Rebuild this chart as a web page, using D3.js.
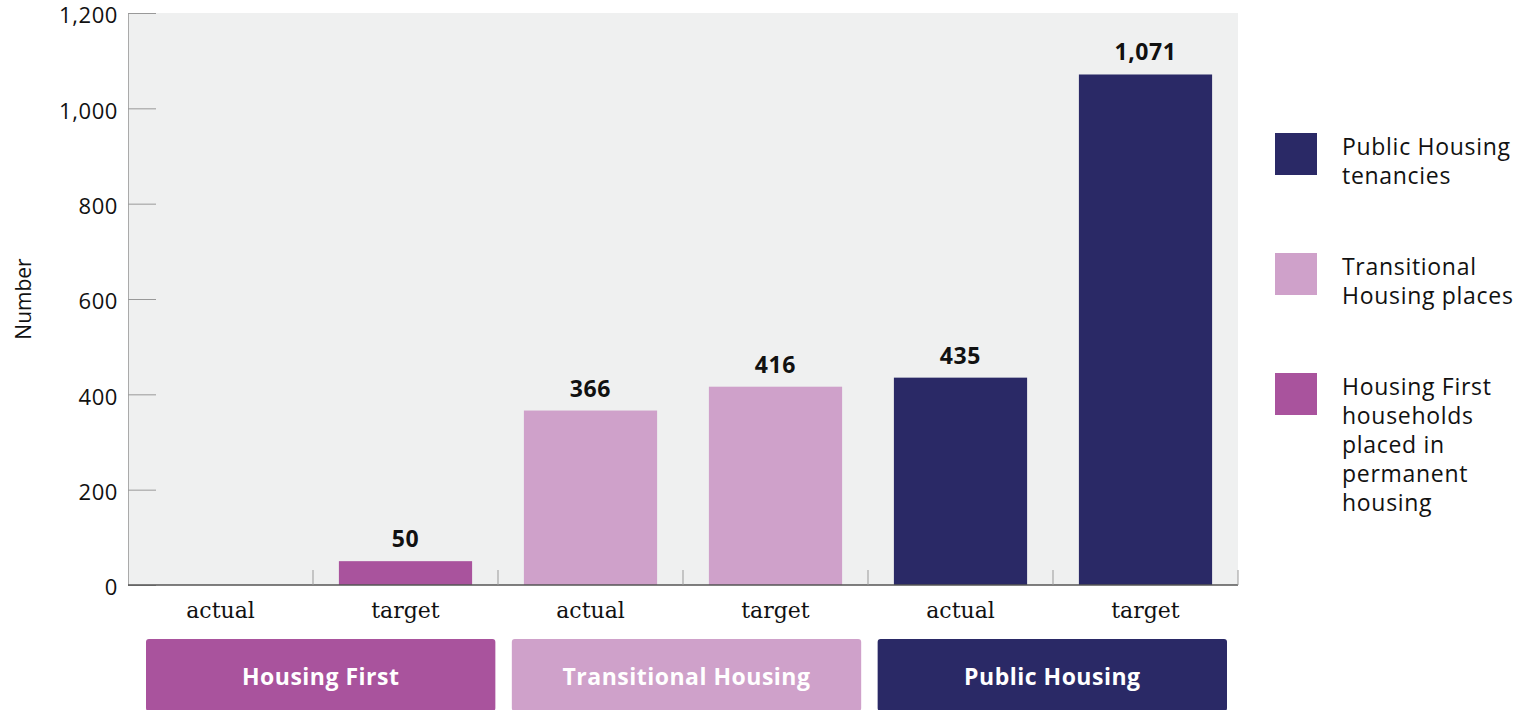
<!DOCTYPE html>
<html>
<head>
<meta charset="utf-8">
<script src="https://cdn.jsdelivr.net/npm/d3@7"></script>
<style>
  body { margin: 0; background: #fff; }
  text { font-family: "Open Sans", sans-serif; }
</style>
</head>
<body>
<div id="chart"></div>
<script>
// data
const bars = ["HF actual", "HF target", "TH actual", "TH target", "PH actual", "PH target"];
const barLabels = ["actual", "target", "actual", "target", "actual", "target"];
const barGroups = ["Housing First", "Housing First", "Transitional Housing", "Transitional Housing", "Public Housing", "Public Housing"];
const values = [0, 50, 366, 416, 435, 1071];
const showValue = [false, true, true, true, true, true];
const groups = ["Housing First", "Transitional Housing", "Public Housing"];
const groupColors = ["#a9539d", "#cfa1ca", "#2a2966"];
const yTicks = [0, 200, 400, 600, 800, 1000, 1200];
const legendItems = [
  {group: "Public Housing", lines: ["Public Housing", "tenancies"]},
  {group: "Transitional Housing", lines: ["Transitional", "Housing places"]},
  {group: "Housing First", lines: ["Housing First", "households", "placed in", "permanent", "housing"]}
];

const W = 1530, H = 710;
const margin = {top: 13, left: 128, right: 292, bottom: 125};
const plotW = W - margin.left - margin.right,
      plotH = H - margin.top - margin.bottom;

const svg = d3.select("#chart")
  .append("svg")
    .attr("width", W)
    .attr("height", H);

const g = svg.append("g")
  .attr("transform", `translate(${margin.left},${margin.top})`);

const color = d3.scaleOrdinal().domain(groups).range(groupColors);

const x = d3.scaleBand()
  .domain(bars)
  .range([0, plotW])
  .paddingInner(0.28)
  .paddingOuter(0.14);

// scale for the group boxes under the axis
const xGroup = d3.scaleBand()
  .domain(groups)
  .range([18, 1099])
  .paddingInner(0.045);

const y = d3.scaleLinear()
  .domain([0, 1200])
  .range([plotH, 0]);

// plot background
g.append("rect")
  .attr("width", plotW)
  .attr("height", plotH)
  .attr("fill", "#eff0f0");

// Y axis, ticks pointing inward
const yAxis = g.append("g")
  .call(d3.axisRight(y).tickValues(yTicks).tickSize(28).tickFormat(d3.format(",")));
yAxis.select(".domain").attr("stroke", "#aaa");
yAxis.selectAll(".tick line").attr("stroke", "#999");
yAxis.selectAll(".tick text")
  .attr("x", -10)
  .attr("dy", "0.45em")
  .attr("text-anchor", "end")
  .attr("fill", "#111")
  .style("font-size", "22px")
  .style("letter-spacing", "0.6px");

// Y axis title
svg.append("text")
  .attr("transform", `translate(31,${margin.top + plotH / 2}) rotate(-90)`)
  .attr("text-anchor", "middle")
  .attr("fill", "#111")
  .style("font-size", "21px")
  .text("Number");

// Bars
g.selectAll(".bar")
  .data(bars)
  .join("rect")
    .attr("class", "bar")
    .attr("x", d => x(d))
    .attr("y", (d, i) => y(values[i]))
    .attr("width", x.bandwidth())
    .attr("height", (d, i) => plotH - y(values[i]))
    .attr("fill", (d, i) => color(barGroups[i]));

// Value labels
g.selectAll(".val")
  .data(bars.filter((d, i) => showValue[i]))
  .join("text")
    .attr("class", "val")
    .attr("x", d => x(d) + x.bandwidth() / 2)
    .attr("y", d => y(values[bars.indexOf(d)]) - 14)
    .attr("text-anchor", "middle")
    .attr("fill", "#111")
    .style("font-size", "23px")
    .style("font-weight", "700")
    .style("letter-spacing", "0.6px")
    .text(d => d3.format(",")(values[bars.indexOf(d)]));

// X axis baseline with separator ticks
g.append("line")
  .attr("x1", 0).attr("x2", plotW)
  .attr("y1", plotH).attr("y2", plotH)
  .attr("stroke", "#555")
  .attr("stroke-width", 1.5);

g.selectAll(".sep")
  .data(bars)
  .join("line")
    .attr("class", "sep")
    .attr("x1", d => x(d) + x.bandwidth() + x.step() * 0.14)
    .attr("x2", d => x(d) + x.bandwidth() + x.step() * 0.14)
    .attr("y1", plotH)
    .attr("y2", plotH - 15)
    .attr("stroke", "#999");

// category labels
g.selectAll(".cat")
  .data(bars)
  .join("text")
    .attr("class", "cat")
    .attr("x", d => x(d) + x.bandwidth() / 2)
    .attr("y", plotH + 33)
    .attr("text-anchor", "middle")
    .attr("fill", "#111")
    .style("font-family", "'DejaVu Serif', serif")
    .style("font-size", "22px")
    .text((d, i) => barLabels[i]);

// group boxes
const boxTop = plotH + 54, boxH = 72;
const box = g.selectAll(".grp")
  .data(groups)
  .join("g")
    .attr("class", "grp")
    .attr("transform", d => `translate(${xGroup(d)},${boxTop})`);

box.append("rect")
  .attr("width", xGroup.bandwidth())
  .attr("height", boxH)
  .attr("rx", 3)
  .attr("fill", d => color(d));

box.append("text")
  .attr("x", xGroup.bandwidth() / 2)
  .attr("y", boxH / 2 + 2)
  .attr("dy", "0.35em")
  .attr("text-anchor", "middle")
  .attr("fill", "#fff")
  .style("font-size", "23px")
  .style("font-weight", "700")
  .style("letter-spacing", "0.5px")
  .text(d => d);

// Legend
const legend = svg.append("g")
  .attr("transform", "translate(1275,133)");

const item = legend.selectAll(".leg")
  .data(legendItems)
  .join("g")
    .attr("class", "leg")
    .attr("transform", (d, i) => `translate(0,${i * 120})`);

item.append("rect")
  .attr("width", 42)
  .attr("height", 42)
  .attr("fill", d => color(d.group));

item.append("text")
  .attr("x", 67)
  .attr("y", 22)
  .attr("fill", "#111")
  .style("font-size", "23px")
  .style("letter-spacing", "0.7px")
  .selectAll("tspan")
  .data(d => d.lines)
  .join("tspan")
    .attr("x", 67)
    .attr("dy", (d, i) => i === 0 ? 0 : 29)
    .text(d => d);
</script>
</body>
</html>
